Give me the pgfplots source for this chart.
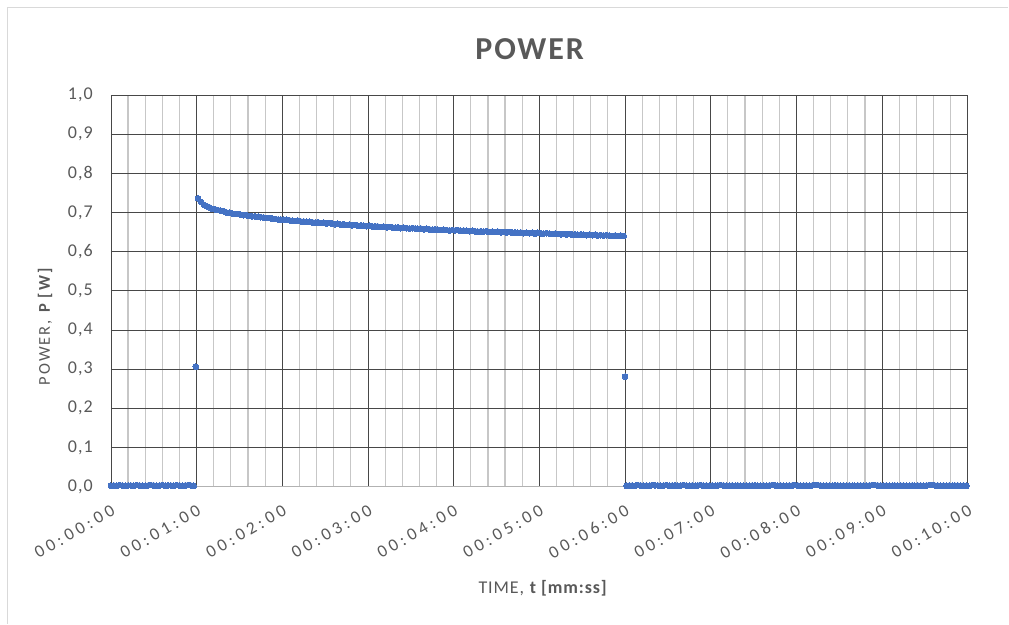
\documentclass[border=0pt]{standalone}
\usepackage{pgfplots}
\pgfplotsset{compat=1.18}
\usepackage{pgfplotstable}
\usepackage{fontspec}
\setmainfont{Carlito}
\newfontfamily\xtickfont[LetterSpace=22]{Carlito}
\newfontfamily\ytickfont[LetterSpace=6]{Carlito}
\newfontfamily\titlefont[LetterSpace=6]{Carlito}
\newfontfamily\ylabfont[LetterSpace=12]{Carlito}
\newfontfamily\xlabfont[LetterSpace=5]{Carlito}
\definecolor{txt}{HTML}{595959}
\definecolor{ser}{HTML}{4472C4}
\definecolor{framec}{HTML}{D9D9D9}

\pgfplotstableread{
t P
0 0.002
2 0.003
4 0.002
6 0.004
8 0.003
10 0.002
12 0.003
14 0.003
16 0.002
18 0.004
20 0.003
22 0.002
24 0.002
26 0.003
28 0.004
30 0.003
32 0.002
34 0.003
36 0.004
38 0.002
40 0.003
42 0.003
44 0.002
46 0.004
48 0.003
50 0.002
52 0.003
54 0.004
56 0.003
58 0.002
59.5 0.306
61 0.736
63 0.727
65 0.720
67 0.716
69 0.713
71 0.709
73 0.708
75 0.706
77 0.704
79 0.703
81 0.700
83 0.699
85 0.697
87 0.696
89 0.696
91 0.694
93 0.693
95 0.693
97 0.691
99 0.690
101 0.690
103 0.689
105 0.688
107 0.687
109 0.686
111 0.686
113 0.684
115 0.683
117 0.682
119 0.682
121 0.681
123 0.681
125 0.680
127 0.679
129 0.678
131 0.679
133 0.677
135 0.677
137 0.676
139 0.676
141 0.675
143 0.674
145 0.675
147 0.673
149 0.674
151 0.672
153 0.673
155 0.671
157 0.670
159 0.671
161 0.669
163 0.670
165 0.668
167 0.669
169 0.667
171 0.668
173 0.666
175 0.667
177 0.666
179 0.665
181 0.666
183 0.664
185 0.665
187 0.664
189 0.663
191 0.664
193 0.662
195 0.663
197 0.662
199 0.661
201 0.662
203 0.660
205 0.661
207 0.660
209 0.659
211 0.660
213 0.659
215 0.658
217 0.659
219 0.657
221 0.658
223 0.657
225 0.656
227 0.657
229 0.656
231 0.655
233 0.656
235 0.655
237 0.654
239 0.655
241 0.654
243 0.655
245 0.653
247 0.654
249 0.653
251 0.652
253 0.653
255 0.652
257 0.651
259 0.652
261 0.651
263 0.652
265 0.650
267 0.651
269 0.650
271 0.651
273 0.649
275 0.650
277 0.649
279 0.650
281 0.648
283 0.649
285 0.648
287 0.649
289 0.647
291 0.648
293 0.647
295 0.648
297 0.646
299 0.648
301 0.647
303 0.646
305 0.647
307 0.646
309 0.645
311 0.646
313 0.645
315 0.644
317 0.645
319 0.644
321 0.645
323 0.643
325 0.644
327 0.643
329 0.644
331 0.643
333 0.642
335 0.643
337 0.642
339 0.643
341 0.641
343 0.642
345 0.641
347 0.642
349 0.641
351 0.640
353 0.641
355 0.640
357 0.641
359 0.640
360 0.281
361 0.002
363 0.003
365 0.003
367 0.002
369 0.004
371 0.003
373 0.002
375 0.003
377 0.002
379 0.004
381 0.003
383 0.003
385 0.002
387 0.003
389 0.004
391 0.002
393 0.003
395 0.003
397 0.002
399 0.003
401 0.004
403 0.003
405 0.002
407 0.003
409 0.002
411 0.003
413 0.004
415 0.002
417 0.003
419 0.002
421 0.003
423 0.002
425 0.003
427 0.004
429 0.003
431 0.002
433 0.002
435 0.003
437 0.002
439 0.003
441 0.002
443 0.002
445 0.003
447 0.002
449 0.003
451 0.003
453 0.002
455 0.002
457 0.003
459 0.002
461 0.003
463 0.004
465 0.003
467 0.002
469 0.003
471 0.002
473 0.002
475 0.003
477 0.003
479 0.004
481 0.003
483 0.002
485 0.003
487 0.003
489 0.002
491 0.003
493 0.004
495 0.004
497 0.003
499 0.002
501 0.003
503 0.002
505 0.002
507 0.003
509 0.003
511 0.002
513 0.003
515 0.002
517 0.003
519 0.002
521 0.002
523 0.003
525 0.003
527 0.002
529 0.003
531 0.003
533 0.004
535 0.004
537 0.003
539 0.003
541 0.002
543 0.003
545 0.002
547 0.002
549 0.003
551 0.002
553 0.003
555 0.003
557 0.002
559 0.002
561 0.003
563 0.002
565 0.003
567 0.003
569 0.002
571 0.003
573 0.004
575 0.004
577 0.003
579 0.003
581 0.002
583 0.003
585 0.002
587 0.003
589 0.002
591 0.003
593 0.003
595 0.002
597 0.003
599 0.002
}\powerdata

\begin{document}
\begin{tikzpicture}[x=1pt,y=1pt]
\path (0,0) rectangle (1009,624);
\draw[framec, line width=1.5pt] (7.5,0) -- (7.5,616.5) -- (1009,616.5);
\begin{axis}[
  at={(111pt,137pt)}, anchor=south west,
  width=857.5pt, height=392pt, scale only axis,
  xmin=0, xmax=600, ymin=0, ymax=1,
  clip=false,
  axis x line*=bottom, axis y line*=left,
  x axis line style={draw=black!30, line width=1pt, -},
  y axis line style={draw=none},
  major tick length=0pt, minor tick length=0pt,
  xtick={60,120,180,240,300,360,420,480,540},
  xticklabels={00:01:00,00:02:00,00:03:00,00:04:00,00:05:00,00:06:00,00:07:00,00:08:00,00:09:00},
  extra x ticks={0,600},
  extra x tick labels={00:00:00,00:10:00},
  extra x tick style={grid style={black!22, line width=1.2pt}},
  minor xtick={12,24,36,48,72,84,96,108,132,144,156,168,192,204,216,228,252,264,276,288,312,324,336,348,372,384,396,408,432,444,456,468,492,504,516,528,552,564,576,588},
  ytick={0,0.1,0.2,0.3,0.4,0.5,0.6,0.7,0.8,0.9,1},
  yticklabels={{0,0},{0,1},{0,2},{0,3},{0,4},{0,5},{0,6},{0,7},{0,8},{0,9},{1,0}},
  grid=both,
  major grid style={black!72, line width=0.8pt},
  minor grid style={black!22, line width=1.2pt},
  xticklabel style={font=\xtickfont\fontsize{17.5}{17.5}\selectfont, text=txt, rotate=30, anchor=east, inner sep=0pt, xshift=3pt},
  xticklabel shift=24pt,
  yticklabel style={font=\ytickfont\fontsize{18}{18}\selectfont, text=txt, anchor=east, inner sep=0pt},
  yticklabel shift=18pt,
]
\addplot[only marks, mark=*, mark size=2.9pt, color=ser, mark options={draw=ser, fill=ser, line width=0pt}] table[x=t, y=P] {\powerdata};
\end{axis}
\node[text=txt, font=\titlefont\bfseries\fontsize{32}{32}\selectfont] at (530,575) {POWER};
\node[text=txt, font=\ylabfont\fontsize{16.5}{16.5}\selectfont, rotate=90, anchor=base] at (50,298) {POWER, \textbf{P [W]}};
\node[text=txt, font=\xlabfont\fontsize{18}{18}\selectfont, anchor=base] at (543.5,30) {TIME, \textbf{t [mm:ss]}};
\end{tikzpicture}
\end{document}
